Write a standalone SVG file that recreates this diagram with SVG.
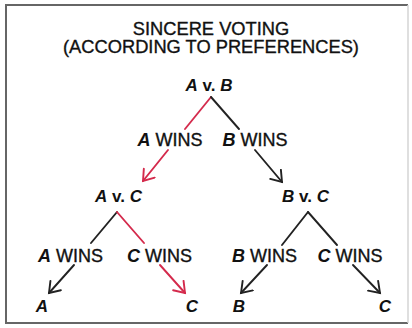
<svg xmlns="http://www.w3.org/2000/svg" width="412" height="328" viewBox="0 0 412 328">
  <style>
    .title { font-family: "Liberation Sans", Arial, sans-serif; font-size: 18.3px; fill: #111; stroke: #111; stroke-width: 0.35px; text-anchor: middle; }
    .match { font-family: "Liberation Sans", Arial, sans-serif; font-size: 17px; font-weight: bold; fill: #111; text-anchor: middle; }
    .win { font-family: "Liberation Sans", Arial, sans-serif; font-size: 18px; fill: #111; stroke: #111; stroke-width: 0.35px; text-anchor: middle; }
    .it { font-style: italic; font-weight: bold; stroke: none; }
    .end { font-family: "Liberation Sans", Arial, sans-serif; font-size: 17px; font-weight: bold; font-style: italic; fill: #111; text-anchor: middle; }
    .edge { fill: none; stroke-width: 1.9; stroke-linecap: round; }
    .red { stroke: #d42a4c; }
    .blk { stroke: #222; }
  </style>
  <defs>
    <marker id="arrow-red" markerUnits="userSpaceOnUse" markerWidth="16" markerHeight="18" refX="11" refY="8" orient="auto">
      <path d="M1,1 L11,8 L1,15" fill="none" stroke="#d42a4c" stroke-width="1.9" stroke-linecap="round" stroke-linejoin="miter"/>
    </marker>
    <marker id="arrow-blk" markerUnits="userSpaceOnUse" markerWidth="16" markerHeight="18" refX="11" refY="8" orient="auto">
      <path d="M1,1 L11,8 L1,15" fill="none" stroke="#222" stroke-width="1.9" stroke-linecap="round" stroke-linejoin="miter"/>
    </marker>
  </defs>

  <rect width="412" height="328" fill="#fff"/>
  <!-- frame -->
  <g id="frame">
    <path d="M408,5 L6,5 L6,323 L408,323" fill="none" stroke="#666" stroke-width="2"/>
    <line x1="408" y1="5" x2="408" y2="323" stroke="#d4d4d4" stroke-width="1.5"/>
  </g>

  <g id="heading">
    <text class="title" x="211" y="35">SINCERE VOTING</text>
    <text class="title" x="211" y="53">(ACCORDING TO PREFERENCES)</text>
  </g>

  <!-- tree connectors -->
  <g id="connectors">
    <line class="edge red" x1="211" y1="97" x2="185" y2="129"/>
    <line class="edge blk" x1="211" y1="97" x2="239" y2="129"/>
    <line class="edge red" x1="168" y1="150" x2="143" y2="181" marker-end="url(#arrow-red)"/>
    <line class="edge blk" x1="255" y1="150" x2="282" y2="182" marker-end="url(#arrow-blk)"/>

    <line class="edge blk" x1="117" y1="212" x2="91" y2="243"/>
    <line class="edge red" x1="117" y1="212" x2="144" y2="243"/>
    <line class="edge blk" x1="308" y1="212" x2="282" y2="245"/>
    <line class="edge blk" x1="308" y1="212" x2="337" y2="245"/>

    <line class="edge blk" x1="74" y1="265" x2="49" y2="293" marker-end="url(#arrow-blk)"/>
    <line class="edge red" x1="160" y1="265" x2="185" y2="293" marker-end="url(#arrow-red)"/>
    <line class="edge blk" x1="267" y1="265" x2="241" y2="293" marker-end="url(#arrow-blk)"/>
    <line class="edge blk" x1="353" y1="265" x2="380" y2="293" marker-end="url(#arrow-blk)"/>
  </g>

  <g id="vote-ab"><text class="match" x="209" y="91"><tspan font-style="italic">A</tspan> v. <tspan font-style="italic">B</tspan></text></g>
  <g id="a-wins-1"><text class="win" x="170" y="146"><tspan class="it">A</tspan> WINS</text></g>
  <g id="b-wins-1"><text class="win" x="255" y="146"><tspan class="it">B</tspan> WINS</text></g>

  <g id="vote-ac"><text class="match" x="118.5" y="202"><tspan font-style="italic">A</tspan> v. <tspan font-style="italic">C</tspan></text></g>
  <g id="vote-bc"><text class="match" x="305.5" y="202"><tspan font-style="italic">B</tspan> v. <tspan font-style="italic">C</tspan></text></g>

  <g id="a-wins-2"><text class="win" x="70.5" y="262"><tspan class="it">A</tspan> WINS</text></g>
  <g id="c-wins-2"><text class="win" x="159.5" y="262"><tspan class="it">C</tspan> WINS</text></g>
  <g id="b-wins-3"><text class="win" x="264.5" y="262"><tspan class="it">B</tspan> WINS</text></g>
  <g id="c-wins-3"><text class="win" x="350" y="262"><tspan class="it">C</tspan> WINS</text></g>

  <g id="result-a"><text class="end" x="42" y="312">A</text></g>
  <g id="result-c1"><text class="end" x="192" y="312">C</text></g>
  <g id="result-b"><text class="end" x="239" y="312">B</text></g>
  <g id="result-c2"><text class="end" x="385" y="312">C</text></g>
</svg>
